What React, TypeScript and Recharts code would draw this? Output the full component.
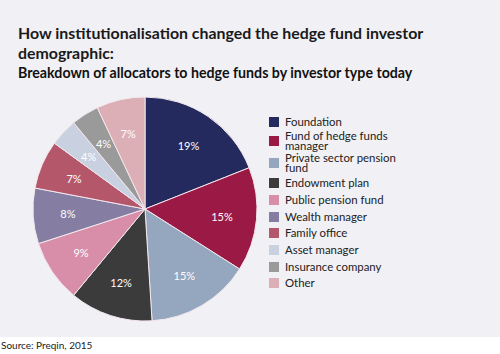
import { PieChart, Pie, Cell, Legend } from "recharts";

const investorTypes = [
  "Foundation",
  "Fund of hedge funds manager",
  "Private sector pension fund",
  "Endowment plan",
  "Public pension fund",
  "Wealth manager",
  "Family office",
  "Asset manager",
  "Insurance company",
  "Other",
];
const shares = [19, 15, 15, 12, 9, 8, 7, 4, 4, 7];
const colors = [
  "#252a5e",
  "#9b1a45",
  "#95a6bf",
  "#3b3b3b",
  "#d88ea8",
  "#857ea2",
  "#b4576b",
  "#c9d0df",
  "#9a9a9a",
  "#dcaeb6",
];
const titleLines = ["How institutionalisation changed the hedge fund investor", "demographic:"];

const data = investorTypes.map((name, i) => ({ name, value: shares[i] }));

const font = "Lato, 'Open Sans', sans-serif";
const RADIAN = Math.PI / 180;

const renderLabel = (props: any) => {
  const { cx, cy, midAngle, outerRadius, value } = props;
  const r = outerRadius * 0.69;
  const x = cx + r * Math.cos(-midAngle * RADIAN);
  const y = cy + r * Math.sin(-midAngle * RADIAN);
  return (
    <text x={x} y={y} fill="#ffffff" fontSize={11} fontFamily={font} textAnchor="middle" dominantBaseline="central">
      {value}%
    </text>
  );
};

// two-line entries get a taller row
const rowHeights = [17, 20, 24, 17, 16.7, 16.7, 16.7, 16.7, 16.7, 16.7];

const legendContent = () => (
  <div style={{ fontFamily: font, fontSize: 11.4, color: "#222" }}>
    {investorTypes.map((name, i) => (
      <div key={name} style={{ display: "flex", alignItems: "center", height: rowHeights[i] }}>
        <span style={{ width: 10, height: 10, background: colors[i], marginRight: 6, flexShrink: 0 }} />
        <span style={{ width: 112, lineHeight: "9.6px" }}>{name}</span>
      </div>
    ))}
  </div>
);

export default function App() {
  return (
    <div style={{ position: "relative", width: 500, height: 354, background: "#fff", fontFamily: font }}>
      <style>{`body{margin:0}`}</style>
      <div style={{ position: "absolute", left: 0, top: 0, width: 500, height: 337, background: "#f1f0f5" }} />
      {titleLines.map((line, i) => (
        <div
          key={line}
          style={{
            position: "absolute",
            left: 18,
            top: 23 + i * 19.5,
            height: 19.5,
            fontSize: 15.9,
            fontWeight: 700,
            lineHeight: "19.5px",
            color: "#1a1a1a",
            whiteSpace: "nowrap",
          }}
        >
          {line}
        </div>
      ))}
      <div style={{ position: "absolute", left: 18, top: 64, fontSize: 14.2, fontWeight: 700, color: "#111" }}>
        Breakdown of allocators to hedge funds by investor type today
      </div>
      <div style={{ position: "absolute", left: 0, top: 0 }}>
        <PieChart width={500} height={337}>
          <Pie
            data={data}
            dataKey="value"
            nameKey="name"
            cx={140}
            cy={204}
            outerRadius={112}
            startAngle={90}
            endAngle={-270}
            stroke="#f3e8ee"
            strokeWidth={1}
            label={renderLabel}
            labelLine={false}
            isAnimationActive={false}
          >
            {data.map((d, i) => (
              <Cell key={d.name} fill={colors[i]} />
            ))}
          </Pie>
          <Legend
            layout="vertical"
            content={legendContent}
            wrapperStyle={{ left: 269, top: 113.5, width: 160 }}
          />
        </PieChart>
      </div>
      <div style={{ position: "absolute", left: 1, top: 339, fontSize: 10, color: "#222" }}>Source: Preqin, 2015</div>
    </div>
  );
}
